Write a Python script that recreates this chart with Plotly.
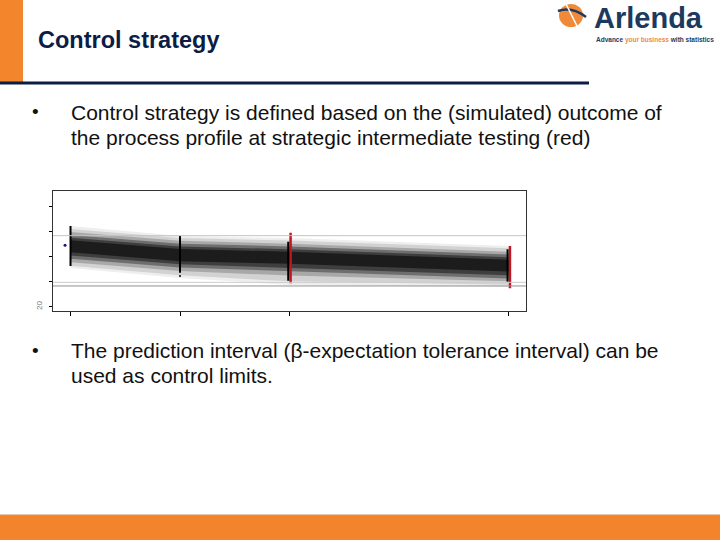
import plotly.graph_objects as go

# ---------------- data ----------------
time_points = [0, 6, 12, 24]

# simulated profile envelopes (outer -> inner)
env1_hi = [26.43, 25.63, 25.47, 24.84]
env1_lo = [23.08, 22.29, 21.73, 21.57]
env2_hi = [26.20, 25.48, 25.28, 24.65]
env2_lo = [23.26, 22.50, 22.02, 21.75]
env3_hi = [25.95, 25.25, 25.02, 24.38]
env3_lo = [23.55, 22.85, 22.48, 22.02]
env4_hi = [25.72, 25.02, 24.80, 24.16]
env4_lo = [23.82, 23.12, 22.80, 22.24]
env5_hi = [25.50, 24.80, 24.58, 23.94]
env5_lo = [24.08, 23.38, 23.10, 22.50]
env6_hi = [25.30, 24.60, 24.38, 23.74]
env6_lo = [24.34, 23.62, 23.42, 22.80]

# simulated outcomes at each time point (vertical spread)
black_time = [0, 6, 11.93, 23.95]
black_lo = [23.25, 22.71, 22.07, 21.99]
black_hi = [26.43, 25.63, 25.18, 24.57]

# strategic intermediate testing (red)
red_time = [12.06, 24.08]
red_lo = [21.86, 21.47]
red_hi = [25.90, 24.84]

# control limits
upper_limit = 25.66
lower_limit_inner = 21.94
lower_limit_outer = 21.65

# single observed points
obs_time = [-0.3]
obs_value = [24.89]
dot_time = [6]
dot_value = [22.45]

y_tickvals = [20, 22, 24, 26, 28]
y_ticktext = ["20", "", "", "", ""]

bullet_lines = [
    "Control strategy is defined based on the (simulated) outcome of",
    "the process profile at strategic intermediate testing (red)",
    "The prediction interval (\u03b2-expectation tolerance interval) can be",
    "used as control limits.",
]

# ---------------- figure ----------------
W, H = 720, 540


def px(x):
    return x / W


def py(y):
    return 1 - y / H


fig = go.Figure()

env_pairs = [
    (env1_hi, env1_lo, "#eeeeee"),
    (env2_hi, env2_lo, "#d2d2d2"),
    (env3_hi, env3_lo, "#a8a8a8"),
    (env4_hi, env4_lo, "#6e6e6e"),
    (env5_hi, env5_lo, "#3e3e3e"),
    (env6_hi, env6_lo, "#1c1c1c"),
]
for hi, lo, col in env_pairs:
    fig.add_trace(go.Scatter(
        x=time_points + time_points[::-1],
        y=hi + lo[::-1],
        fill="toself", fillcolor=col, mode="lines",
        line=dict(width=0, color=col), hoverinfo="skip", showlegend=False))

# red bars
rx, ry = [], []
for t, lo, hi in zip(red_time, red_lo, red_hi):
    rx += [t, t, None]
    ry += [lo, hi, None]
fig.add_trace(go.Scatter(x=rx, y=ry, mode="lines",
                         line=dict(color="#c8141e", width=2.5),
                         showlegend=False, hoverinfo="skip"))

# black bars
bx, by = [], []
for t, lo, hi in zip(black_time, black_lo, black_hi):
    bx += [t, t, None]
    by += [lo, hi, None]
fig.add_trace(go.Scatter(x=bx, y=by, mode="lines",
                         line=dict(color="#000000", width=2),
                         showlegend=False, hoverinfo="skip"))

fig.add_trace(go.Scatter(x=obs_time, y=obs_value, mode="markers",
                         marker=dict(color="#1a1a7a", size=3),
                         showlegend=False, hoverinfo="skip"))
fig.add_trace(go.Scatter(x=dot_time, y=dot_value, mode="markers",
                         marker=dict(color="#000000", size=2),
                         showlegend=False, hoverinfo="skip"))

# control limit lines
for val, col in [(upper_limit, "#c4c4c4"), (lower_limit_inner, "#cccccc"),
                 (lower_limit_outer, "#909090")]:
    fig.add_shape(type="line", xref="x domain", yref="y",
                  x0=0, x1=1, y0=val, y1=val,
                  line=dict(color=col, width=1))

shapes = [
    # orange left header bar
    dict(type="rect", xref="paper", yref="paper", x0=0, x1=px(23), y0=py(82), y1=1,
         fillcolor="#f3862c", line=dict(width=0), layer="below"),
    # navy rule under header
    dict(type="rect", xref="paper", yref="paper", x0=0, x1=px(589), y0=py(84.5), y1=py(81.5),
         fillcolor="#0c1d45", line=dict(width=0)),
    # bottom orange band
    dict(type="rect", xref="paper", yref="paper", x0=0, x1=1, y0=0, y1=py(515),
         fillcolor="#f3842b", line=dict(width=0)),
    dict(type="line", xref="paper", yref="paper", x0=0, x1=1, y0=py(515), y1=py(515),
         line=dict(color="#d39060", width=1)),
    # logo icon
    dict(type="circle", xref="paper", yref="paper", x0=px(559), x1=px(583), y0=py(27), y1=py(4),
         fillcolor="#f08a3a", line=dict(width=0)),
    dict(type="path", xref="paper", yref="paper",
         path=f"M {px(558)} {py(11)} Q {px(572)} {py(6)} {px(586)} {py(17)}",
         line=dict(color="#1c3a5e", width=2.5)),
    dict(type="line", xref="paper", yref="paper", x0=px(566), x1=px(578), y0=py(4), y1=py(28),
         line=dict(color="#ffffff", width=1.5)),
]
for s in shapes:
    fig.add_shape(**s)

ann = []
ann.append(dict(text="<b>Control strategy</b>", x=px(36), y=py(40), xref="paper", yref="paper",
                xanchor="left", yanchor="middle", showarrow=False,
                font=dict(family="Liberation Sans, Arial", size=23.5, color="#0c1d45")))
ann.append(dict(text="<b>Arlenda</b>", x=px(592), y=py(18), xref="paper", yref="paper",
                xanchor="left", yanchor="middle", showarrow=False,
                font=dict(family="Liberation Sans, Arial", size=29, color="#1c3a5e")))
ann.append(dict(text="<b>Advance <span style='color:#f08a3a'>your business</span> with statistics</b>",
                x=px(594), y=py(39.5), xref="paper", yref="paper",
                xanchor="left", yanchor="middle", showarrow=False,
                font=dict(family="Liberation Sans, Arial", size=6.5, color="#1c3a5e")))

body_font = dict(family="Liberation Sans, Arial", size=21, color="#111111")
bullet_font = dict(family="Liberation Sans, Arial", size=19, color="#111111")
for yb in [112, 350]:
    ann.append(dict(text="\u2022", x=px(35), y=py(yb), xref="paper", yref="paper",
                    xanchor="center", yanchor="middle", showarrow=False, font=bullet_font))
for txt, yl in zip(bullet_lines, [112.5, 137.5, 350.5, 375.5]):
    ann.append(dict(text=txt, x=px(69), y=py(yl), xref="paper", yref="paper",
                    xanchor="left", yanchor="middle", showarrow=False, font=body_font))

fig.update_layout(
    width=W, height=H,
    margin=dict(l=0, r=0, t=0, b=0),
    paper_bgcolor="white", plot_bgcolor="white",
    showlegend=False,
    annotations=ann,
    xaxis=dict(domain=[px(53), px(526)], range=[-0.96, 24.96],
               tickvals=time_points, showticklabels=False,
               ticks="outside", ticklen=4, tickcolor="#000",
               showline=True, mirror=True, linecolor="#333", linewidth=1,
               showgrid=False, zeroline=False),
    yaxis=dict(domain=[py(310.7), py(191)], range=[19.68, 29.22],
               tickvals=y_tickvals, ticktext=y_ticktext,
               ticks="outside", ticklen=3, tickcolor="#000",
               tickangle=-90, ticklabelstandoff=4,
               tickfont=dict(family="Liberation Sans, Arial", size=8, color="#777"),
               showline=True, mirror=True, linecolor="#333", linewidth=1,
               showgrid=False, zeroline=False),
)

fig.write_html("out.html", config={"displayModeBar": False},
               post_script="document.body.style.margin='0';")
